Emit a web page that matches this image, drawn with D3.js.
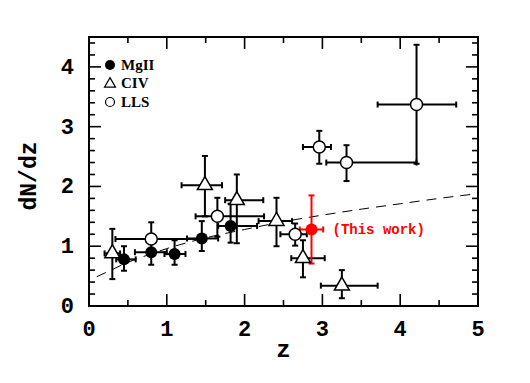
<!DOCTYPE html>
<html><head><meta charset="utf-8">
<script src="https://cdn.jsdelivr.net/npm/d3@7"></script>
<style>body{margin:0;background:#fff}</style>
</head><body>
<svg id="c" width="530" height="383"></svg>
<script>
// MgII (filled circles)
const mgZ   = [0.45, 0.80, 1.10, 1.45, 1.82];
const mgN   = [0.78, 0.90, 0.87, 1.13, 1.34];
const mgZlo = [0.35, 0.59, 0.97, 1.26, 1.66];
const mgZhi = [0.60, 1.00, 1.24, 1.66, 2.16];
const mgNlo = [0.59, 0.69, 0.69, 0.92, 1.06];
const mgNhi = [1.00, 1.08, 1.10, 1.42, 1.71];
// CIV (open triangles)
const civZ   = [0.30, 1.49, 1.90, 2.41, 2.75, 3.25];
const civN   = [0.88, 2.02, 1.77, 1.42, 0.80, 0.34];
const civZlo = [0.20, 1.19, 1.75, 2.18, 2.60, 2.98];
const civZhi = [0.40, 1.71, 2.24, 2.61, 3.03, 3.71];
const civNlo = [0.45, 1.50, 1.05, 1.00, 0.48, 0.13];
const civNhi = [1.29, 2.51, 2.20, 1.81, 1.10, 0.60];
// LLS (open circles)
const llsZ   = [0.80, 1.65, 2.65, 2.96, 3.31, 4.21];
const llsN   = [1.12, 1.50, 1.20, 2.66, 2.40, 3.37];
const llsZlo = [0.34, 1.37, 2.46, 2.75, 3.05, 3.71];
const llsZhi = [1.43, 2.25, 2.80, 3.11, 4.21, 4.72];
const llsNlo = [0.95, 1.16, 1.01, 2.38, 2.09, 2.38];
const llsNhi = [1.40, 1.81, 1.38, 2.93, 2.69, 4.37];
// This work (red)
const twZ = [2.86], twN = [1.28], twZlo = [2.71], twZhi = [3.01], twNlo = [0.71], twNhi = [1.85];
// dashed reference curve
const curveZ = [0.10, 0.25, 0.50, 0.75, 1.00, 1.50, 2.00, 2.50, 3.00, 3.50, 4.00, 4.50, 5.00];
const curveN = [0.49, 0.58, 0.73, 0.85, 0.96, 1.14, 1.28, 1.41, 1.52, 1.62, 1.71, 1.80, 1.88];
// ticks
const xMajor = [0, 1, 2, 3, 4, 5];
const xMinor = [0.5, 1.5, 2.5, 3.5, 4.5];
const yMajor = [0, 1, 2, 3, 4];
const yMinor = [0.2,0.4,0.6,0.8,1.2,1.4,1.6,1.8,2.2,2.4,2.6,2.8,3.2,3.4,3.6,3.8,4.2,4.4];
const legendLabels = ["MgII", "CIV", "LLS"];

const svg = d3.select("#c");
const L = 89, R = 478, T = 37, B = 306;
const x = d3.scaleLinear().domain([0, 5]).range([L, R]);
const y = d3.scaleLinear().domain([0, 4.5]).range([B, T]);
const mono = "'Liberation Mono', 'DejaVu Sans Mono', monospace";
const serif = "'Liberation Serif', 'DejaVu Serif', serif";

// ticks inward on all 4 sides
const g = svg.append("g").attr("stroke", "#000").attr("stroke-width", 1.6);
function tick(x1,y1,x2,y2){ g.append("line").attr("x1",x1).attr("y1",y1).attr("x2",x2).attr("y2",y2); }
xMajor.forEach(v=>{ tick(x(v),B,x(v),B-12); tick(x(v),T,x(v),T+12); });
xMinor.forEach(v=>{ tick(x(v),B,x(v),B-6); tick(x(v),T,x(v),T+6); });
yMajor.forEach(v=>{ tick(L,y(v),L+12,y(v)); tick(R,y(v),R-12,y(v)); });
yMinor.forEach(v=>{ tick(L,y(v),L+6,y(v)); tick(R,y(v),R-6,y(v)); });
svg.append("rect").attr("x",L).attr("y",T).attr("width",R-L).attr("height",B-T)
  .attr("fill","none").attr("stroke","#000").attr("stroke-width",2);

// tick labels
svg.selectAll(".xl").data(xMajor).enter().append("text")
  .attr("x", d=>x(d)).attr("y", 336).attr("text-anchor","middle")
  .attr("font-family", mono).attr("font-weight","bold").attr("font-size",22).text(d=>d);
svg.selectAll(".yl").data(yMajor).enter().append("text")
  .attr("x", 74).attr("y", d=>y(d)+7).attr("text-anchor","end")
  .attr("font-family", mono).attr("font-weight","bold").attr("font-size",22).text(d=>d);
svg.append("text").attr("x", x(2.5)).attr("y", 357).attr("text-anchor","middle")
  .attr("font-family", mono).attr("font-weight","bold").attr("font-size",24).text("z");
svg.append("text").attr("transform","translate(36,176) rotate(-90)").attr("text-anchor","middle")
  .attr("font-family", mono).attr("font-weight","bold").attr("font-size",23).text("dN/dz");

// dashed curve
const lineGen = d3.line().x((d,i)=>x(curveZ[i])).y((d,i)=>y(curveN[i])).curve(d3.curveMonotoneX);
svg.append("path").attr("d", lineGen(curveZ)).attr("fill","none").attr("stroke","#000")
  .attr("stroke-width",1).attr("stroke-dasharray","10,7");

// error bars
function errbars(Z,N,Zlo,Zhi,Nlo,Nhi,color){
  const eg = svg.append("g").attr("stroke",color).attr("stroke-width",2);
  Z.forEach((z,i)=>{
    const cx=x(z), cy=y(N[i]), c=3;
    eg.append("line").attr("x1",x(Zlo[i])).attr("x2",x(Zhi[i])).attr("y1",cy).attr("y2",cy);
    eg.append("line").attr("x1",x(Zlo[i])).attr("x2",x(Zlo[i])).attr("y1",cy-c).attr("y2",cy+c);
    eg.append("line").attr("x1",x(Zhi[i])).attr("x2",x(Zhi[i])).attr("y1",cy-c).attr("y2",cy+c);
    eg.append("line").attr("x1",cx).attr("x2",cx).attr("y1",y(Nlo[i])).attr("y2",y(Nhi[i]));
    eg.append("line").attr("x1",cx-c).attr("x2",cx+c).attr("y1",y(Nlo[i])).attr("y2",y(Nlo[i]));
    eg.append("line").attr("x1",cx-c).attr("x2",cx+c).attr("y1",y(Nhi[i])).attr("y2",y(Nhi[i]));
  });
}
errbars(civZ,civN,civZlo,civZhi,civNlo,civNhi,"#000");
errbars(llsZ,llsN,llsZlo,llsZhi,llsNlo,llsNhi,"#000");
errbars(mgZ,mgN,mgZlo,mgZhi,mgNlo,mgNhi,"#000");
errbars(twZ,twN,twZlo,twZhi,twNlo,twNhi,"#ff0000");

function tri(cx,cy,s){ const h=s*Math.sqrt(3)/2; return `M${cx},${cy-h*2/3}L${cx+s/2},${cy+h/3}L${cx-s/2},${cy+h/3}Z`; }
// markers
svg.selectAll(".lls").data(llsZ).enter().append("circle")
  .attr("cx",(d)=>x(d)).attr("cy",(d,i)=>y(llsN[i])).attr("r",6)
  .attr("fill","#fff").attr("stroke","#000").attr("stroke-width",1.5);
svg.selectAll(".civ").data(civZ).enter().append("path")
  .attr("d",(d,i)=>tri(x(d),y(civN[i]),15))
  .attr("fill","#fff").attr("stroke","#000").attr("stroke-width",1.5);
svg.selectAll(".mg").data(mgZ).enter().append("circle")
  .attr("cx",(d)=>x(d)).attr("cy",(d,i)=>y(mgN[i])).attr("r",6).attr("fill","#000");
svg.selectAll(".tw").data(twZ).enter().append("circle")
  .attr("cx",(d)=>x(d)).attr("cy",(d,i)=>y(twN[i])).attr("r",6).attr("fill","#ff0000");
svg.append("text").attr("x", x(twZ[0])+21).attr("y", y(twN[0])+5)
  .attr("font-family", mono).attr("font-weight","bold").attr("font-size",14)
  .attr("fill","#ff0000").text("(This work)");

// legend
const ly = [65, 83, 102];
svg.append("circle").attr("cx",110).attr("cy",ly[0]).attr("r",5).attr("fill","#000");
svg.append("path").attr("d",tri(110,ly[1]+1,11)).attr("fill","#fff").attr("stroke","#000").attr("stroke-width",1.2);
svg.append("circle").attr("cx",110).attr("cy",ly[2]).attr("r",4.5).attr("fill","#fff").attr("stroke","#000").attr("stroke-width",1.2);
svg.selectAll(".lg").data(legendLabels).enter().append("text")
  .attr("x",121).attr("y",(d,i)=>ly[i]+5).attr("font-family",serif).attr("font-weight","bold")
  .attr("font-size",15).text(d=>d);
</script>
</body></html>
